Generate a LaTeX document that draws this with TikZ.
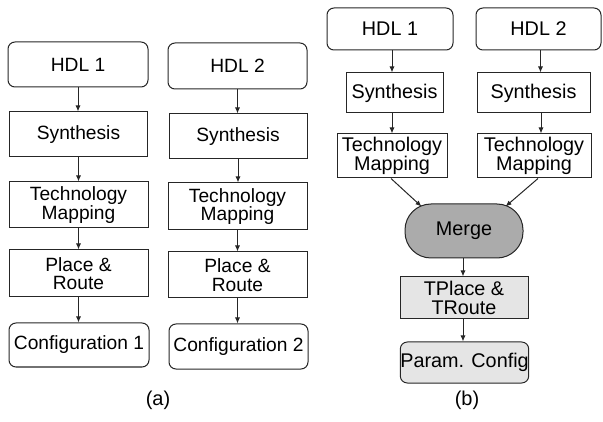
\documentclass[tikz,border=0pt]{standalone}
\usepackage{fontspec}
\setmainfont{Liberation Sans}
\usetikzlibrary{arrows.meta}
\tikzset{
  box/.style={draw=black!85, line width=1pt, inner sep=0pt, align=center, font=\fontsize{19.2}{18.5}\selectfont},
  bbox/.style={box, font=\fontsize{19.8}{19.3}\selectfont},
  rbox/.style={box, rounded corners=7pt},
  rbbox/.style={bbox, rounded corners=7pt},
  arr/.style={draw=black!85, line width=1pt, -{Latex[length=6pt,width=5pt]}},
  lbl/.style={font=\fontsize{20}{20}\selectfont}
}
\newcommand{\bx}[6]{\node[#1, minimum width=#4pt, minimum height=#5pt] (#2) at #3 {#6};}
\begin{document}
\begin{tikzpicture}[x=1pt,y=-1pt]
\useasboundingbox (0,0) rectangle (603,422);
% (a) column 1
\bx{rbox}{hdla}{(78,64.5)}{140}{45}{HDL 1}
\bx{box}{syna}{(78.5,134.5)}{138}{45}{Synthesis}
\bx{box}{tma}{(78.5,205)}{139}{46}{Technology\\Mapping}
\bx{box}{pra}{(78.5,273.5)}{139}{47}{Place \&\\Route}
\bx{rbox}{cfga}{(79,345)}{140}{44}{Configuration 1}
% (a) column 2
\bx{rbox}{hdlb}{(237.5,66)}{139}{46}{HDL 2}
\bx{box}{synb}{(238,136.5)}{138}{45}{Synthesis}
\bx{box}{tmb}{(237.5,206.5)}{139}{47}{Technology\\Mapping}
\bx{box}{prb}{(237.5,275)}{139}{46}{Place \&\\Route}
\bx{rbox}{cfgb}{(238.5,346.5)}{139}{45}{Configuration 2}
% (b)
\bx{rbbox}{hdlc}{(390,29)}{126}{42}{HDL 1}
\bx{rbbox}{hdld}{(538.5,29)}{125}{42}{HDL 2}
\bx{bbox}{sync}{(394.5,93)}{97}{40}{Synthesis}
\bx{bbox}{synd}{(533.5,93)}{113}{40}{Synthesis}
\bx{bbox}{tmc}{(392,156)}{110}{44}{Technology\\Mapping}
\bx{bbox}{tmd}{(534,156)}{114}{44}{Technology\\Mapping}
\bx{bbox, fill=black!33, rounded corners=26pt}{merge}{(464,231)}{118}{54}{Merge}
\bx{bbox, fill=black!10}{tpr}{(464,298)}{128}{42}{TPlace \&\\TRoute}
\bx{bbox, fill=black!10, rounded corners=7pt}{pcfg}{(464.5,362.5)}{127}{41}{Param. Config}
% labels
\node[lbl] (la) at (158,400) {(a)};
\node[lbl] (lb) at (467,400) {(b)};
% arrows (a)
\draw[arr] (hdla.south) -- (hdla.south |- syna.north);
\draw[arr] (syna.south) -- (syna.south |- tma.north);
\draw[arr] (tma.south) -- (tma.south |- pra.north);
\draw[arr] (pra.south) -- (pra.south |- cfga.north);
\draw[arr] (hdlb.south) -- (hdlb.south |- synb.north);
\draw[arr] (synb.south) -- (synb.south |- tmb.north);
\draw[arr] (tmb.south) -- (tmb.south |- prb.north);
\draw[arr] (prb.south) -- (prb.south |- cfgb.north);
% arrows (b)
\draw[arr] ([xshift=2pt]hdlc.south) -- ([xshift=2pt]hdlc.south |- sync.north);
\draw[arr] ([xshift=2pt]hdld.south) -- ([xshift=2pt]hdld.south |- synd.north);
\draw[arr] ([xshift=-2.5pt]sync.south) -- ([xshift=-2.5pt]sync.south |- tmc.north);
\draw[arr] ([xshift=7.5pt]synd.south) -- ([xshift=7.5pt]synd.south |- tmd.north);
\draw[arr] ([xshift=-1pt]tmc.south) -- ([xshift=17pt,yshift=-3pt]merge.north west);
\draw[arr] ([xshift=4pt]tmd.south) -- ([xshift=-18pt,yshift=-3pt]merge.north east);
\draw[arr] ([xshift=-1pt]merge.south) -- ([xshift=-1pt]merge.south |- tpr.north);
\draw[arr] ([xshift=-1pt]tpr.south) -- ([xshift=-1pt]tpr.south |- pcfg.north);
\end{tikzpicture}
\end{document}
